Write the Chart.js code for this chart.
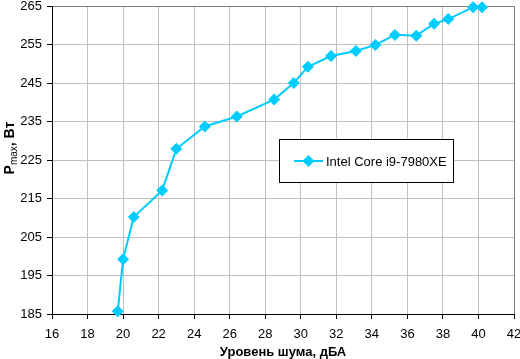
<!DOCTYPE html>
<html>
<head>
<meta charset="utf-8">
<script src="https://cdn.jsdelivr.net/npm/chart.js@4/dist/chart.umd.min.js"></script>
<style>
html,body{margin:0;padding:0;background:#fff;}
canvas{display:block;}
</style>
</head>
<body>
<canvas id="c" width="520" height="359"></canvas>
<script>
const seriesName = "Intel Core i9-7980XE";
const noise = [19.7, 20.0, 20.6, 22.2, 23.0, 24.6, 26.4, 28.5, 29.6, 30.4, 31.7, 33.1, 34.2, 35.3, 36.5, 37.5, 38.3, 39.7, 40.2];
const power = [185.7, 199.2, 210.2, 217.1, 227.9, 233.7, 236.3, 240.7, 245.0, 249.2, 252.0, 253.3, 254.9, 257.5, 257.3, 260.4, 261.6, 264.7, 264.7];
const xTicks = [16, 18, 20, 22, 24, 26, 28, 30, 32, 34, 36, 38, 40, 42];
const yTicks = [185, 195, 205, 215, 225, 235, 245, 255, 265];
const xTitle = "Уровень шума, дБА";
const yTitleMain = "P", yTitleSub = "max", yTitleRest = ", Вт";

const FONT = "'Liberation Sans', Arial, sans-serif";
const CYAN = "#00CCFF";

const points = noise.map((x, i) => ({x: x, y: power[i]}));

const customPlugin = {
  id: 'custom',
  afterDraw(chart) {
    const ctx = chart.ctx;
    const ca = chart.chartArea;
    ctx.save();
    // X title
    ctx.fillStyle = '#000';
    ctx.font = "bold 13px " + FONT;
    ctx.textAlign = 'center';
    ctx.textBaseline = 'alphabetic';
    ctx.fillText(xTitle, (ca.left + ca.right) / 2, 356);
    // Y title rotated with subscript
    ctx.translate(14, 148);
    ctx.rotate(-Math.PI / 2);
    const fMain = "bold 14px " + FONT;
    const fSub = "10px " + FONT;
    ctx.font = fMain; const w1 = ctx.measureText(yTitleMain).width;
    ctx.font = fSub; const w2 = ctx.measureText(yTitleSub).width;
    ctx.font = fMain; const w3 = ctx.measureText(yTitleRest).width;
    let sx = -(w1 + w2 + w3) / 2;
    ctx.textAlign = 'left';
    ctx.font = fMain; ctx.fillText(yTitleMain, sx, 0); sx += w1;
    ctx.font = fSub; ctx.fillText(yTitleSub, sx, 3); sx += w2;
    ctx.font = fMain; ctx.fillText(yTitleRest, sx, 0);
    ctx.restore();

    // Legend
    ctx.save();
    const bx = 279.5, by = 139.5, bw = 174, bh = 43;
    ctx.fillStyle = '#fff';
    ctx.fillRect(bx, by, bw, bh);
    ctx.strokeStyle = '#000';
    ctx.lineWidth = 1;
    ctx.strokeRect(bx, by, bw, bh);
    const ly = 161;
    ctx.strokeStyle = CYAN;
    ctx.lineWidth = 2;
    ctx.beginPath();
    ctx.moveTo(294, ly); ctx.lineTo(323, ly);
    ctx.stroke();
    ctx.fillStyle = CYAN;
    ctx.beginPath();
    const cx = 308.5, r = 6;
    ctx.moveTo(cx - r, ly); ctx.lineTo(cx, ly - r); ctx.lineTo(cx + r, ly); ctx.lineTo(cx, ly + r);
    ctx.closePath();
    ctx.fill();
    ctx.fillStyle = '#000';
    ctx.font = "13px " + FONT;
    ctx.textAlign = 'left';
    ctx.textBaseline = 'middle';
    ctx.fillText(chart.data.datasets[0].label, 326, ly + 1);
    ctx.restore();
  }
};

new Chart(document.getElementById('c'), {
  type: 'scatter',
  data: {
    datasets: [{
      label: seriesName,
      data: points,
      showLine: true,
      borderColor: CYAN,
      backgroundColor: CYAN,
      borderWidth: 2,
      pointStyle: 'rectRot',
      pointRadius: 6,
      pointBorderWidth: 0,
      pointHoverRadius: 6,
      tension: 0,
      clip: false
    }]
  },
  options: {
    responsive: false,
    animation: false,
    devicePixelRatio: 1,
    layout: {padding: {left: 0, top: 5, right: 6, bottom: 0}},
    plugins: {
      legend: {display: false},
      tooltip: {enabled: false},
      title: {display: false}
    },
    scales: {
      x: {
        type: 'linear',
        min: 16, max: 42,
        afterBuildTicks(scale) { scale.ticks = xTicks.map(v => ({value: v})); },
        afterFit(scale) { scale.height = 45; scale.paddingLeft = 0; scale.paddingRight = 0; },
        ticks: {
          color: '#000',
          font: {family: FONT, size: 13},
          padding: 8,
          maxRotation: 0,
          autoSkip: false
        },
        grid: {
          color: (c) => (c.tick && c.tick.value === 42) ? '#808080' : '#C0C0C0',
          tickColor: '#000',
          tickLength: 5,
          lineWidth: 1
        },
        border: {display: true, color: '#000', width: 1}
      },
      y: {
        type: 'linear',
        min: 185, max: 265,
        afterBuildTicks(scale) { scale.ticks = yTicks.map(v => ({value: v})); },
        afterFit(scale) { scale.width = 52; scale.paddingTop = 0; scale.paddingBottom = 0; },
        ticks: {
          color: '#000',
          font: {family: FONT, size: 13},
          padding: 5,
          autoSkip: false
        },
        grid: {
          color: (c) => (c.tick && c.tick.value === 265) ? '#808080' : '#C0C0C0',
          tickColor: '#000',
          tickLength: 5,
          lineWidth: 1
        },
        border: {display: true, color: '#000', width: 1}
      }
    }
  },
  plugins: [customPlugin]
});
</script>
</body>
</html>
